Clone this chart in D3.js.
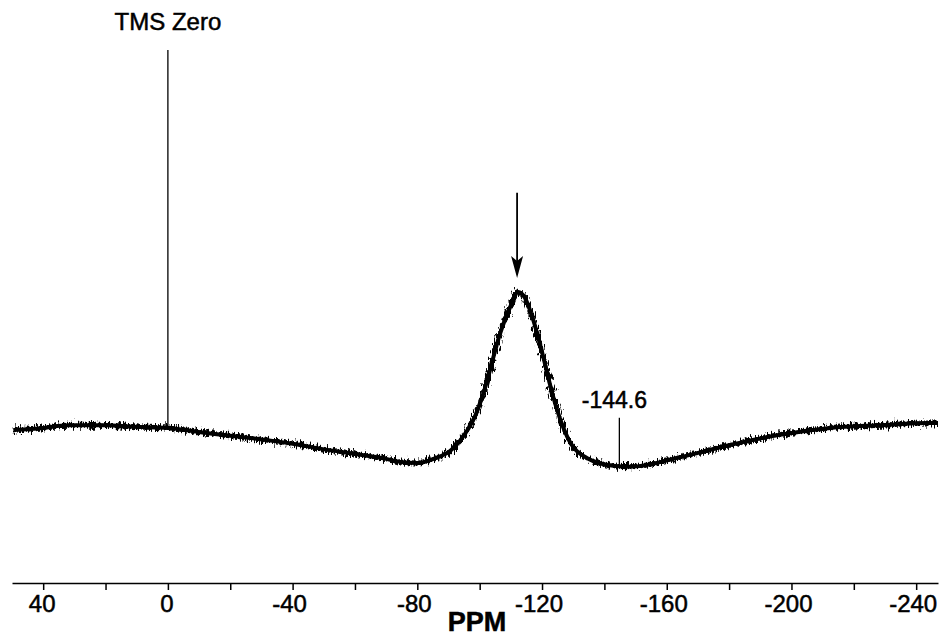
<!DOCTYPE html>
<html>
<head>
<meta charset="utf-8">
<script src="https://cdn.jsdelivr.net/npm/d3@7"></script>
<style>
  body { margin: 0; background: #fff; }
  svg { display: block; font-family: "Liberation Sans", Arial, sans-serif; }
  svg text { stroke: #000; stroke-width: 0.5px; }
</style>
</head>
<body>
<div id="chart"></div>
<script>
const width = 940;
const height = 637;

// spectrum trace (ppm, arbitrary intensity)
const ppm = [49.5, 40, 32.1, 20, 11, 0, -10.5, -26.5, -42.5, -48, -60, -69.1, -74.6, -80,
  -85.2, -90.6, -96.1, -98.6, -101.2, -106.6, -109.8, -112.4, -114.5, -117.2, -120.4, -123.6,
  -128.1, -134.5, -142.8, -148.3, -164.3, -180.3, -196.3, -212.4, -228.4, -244.4, -247];
const intensity = [28.7, 29.1, 29.6, 29.6, 29.3, 29.1, 28.3, 27.2, 25.9, 25.3, 24.2, 23.4, 22.7, 22.5,
  23.3, 24.8, 28.7, 31.4, 35.6, 46.9, 51.8, 54.6, 53.5, 49.3, 42.4, 34.9,
  27.4, 23.4, 22.0, 21.8, 23.6, 25.9, 27.8, 29.1, 29.6, 30.0, 30.0];

// narrow reference lines
const spikePpm = [0, -144.8];
const spikeBase = [29.1, 21.8];
const spikeTop = [100, 31.0];

// axis ticks
const minorTicks = d3.range(50, -250, -10);
const majorTicks = d3.range(40, -250, -20);
const tickLabels = [40, 0, -40, -80, -120, -160, -200, -240];

// annotations
const arrowPpm = -112;
const arrowFrom = 73.2;
const arrowTo = 57.2;
const notes = [
  { text: "TMS Zero", ppm: 0, value: 103.7, size: 24 },
  { text: "-144.6", ppm: -143.2, value: 32.8, size: 23 }
];

const xScale = d3.scaleLinear().domain([50, -247]).range([12, 938]);
const yScale = d3.scaleLinear().domain([0, 100]).range([583, 50]);

const svg = d3.select("#chart")
  .append("svg")
    .attr("width", width)
    .attr("height", height)
    .attr("viewBox", [0, 0, width, height]);

// jitter filter to imitate the noisy trace
const defs = svg.append("defs");
const filter = defs.append("filter")
    .attr("id", "noise")
    .attr("x", "-2%").attr("y", "-20%")
    .attr("width", "104%").attr("height", "140%");
filter.append("feTurbulence")
    .attr("type", "fractalNoise")
    .attr("baseFrequency", "0.7 0.15")
    .attr("numOctaves", 2)
    .attr("seed", 4)
    .attr("result", "t");
filter.append("feDisplacementMap")
    .attr("in", "SourceGraphic")
    .attr("in2", "t")
    .attr("scale", 12)
    .attr("xChannelSelector", "R")
    .attr("yChannelSelector", "G");

// x axis
const axisG = svg.append("g")
    .attr("class", "axis")
    .attr("transform", `translate(0, ${yScale(0)})`);
axisG.call(d3.axisBottom(xScale).tickValues(minorTicks).tickSize(4).tickSizeOuter(0).tickFormat(""));
axisG.call(d3.axisBottom(xScale).tickValues(majorTicks).tickSize(7).tickSizeOuter(0).tickFormat(""));
axisG.selectAll("path, line")
    .attr("stroke", "#000")
    .attr("stroke-width", 1.5);

svg.append("g")
  .selectAll("text")
  .data(tickLabels)
  .join("text")
    .attr("x", d => xScale(d) - (d < 0 ? 3 : 1))
    .attr("y", yScale(0) + 29)
    .attr("text-anchor", "middle")
    .style("font-size", "24px")
    .text(d => String(d));

svg.append("text")
    .attr("x", 477)
    .attr("y", 631)
    .attr("text-anchor", "middle")
    .style("font-size", "27px")
    .style("font-weight", "bold")
    .text("PPM");

// spectrum
const line = d3.line()
  .x((d, i) => xScale(ppm[i]))
  .y(d => yScale(d))
  .curve(d3.curveMonotoneX);

svg.append("path")
    .datum(intensity)
    .attr("d", line)
    .attr("fill", "none")
    .attr("stroke", "#000")
    .attr("stroke-width", 4);

svg.append("path")
    .datum(intensity)
    .attr("d", line)
    .attr("fill", "none")
    .attr("stroke", "#000")
    .attr("stroke-width", 5)
    .attr("filter", "url(#noise)");

// narrow lines
svg.append("g")
  .selectAll("line")
  .data(spikePpm)
  .join("line")
    .attr("x1", d => xScale(d))
    .attr("x2", d => xScale(d))
    .attr("y1", (d, i) => yScale(spikeBase[i]))
    .attr("y2", (d, i) => yScale(spikeTop[i]))
    .attr("stroke", "#000")
    .attr("stroke-width", 1.3);

// arrow
const ax = xScale(arrowPpm);
const tipY = yScale(arrowTo);
svg.append("line")
    .attr("x1", ax).attr("x2", ax)
    .attr("y1", yScale(arrowFrom))
    .attr("y2", tipY - 12)
    .attr("stroke", "#000")
    .attr("stroke-width", 1.8);
svg.append("path")
    .attr("d", `M${ax},${tipY} L${ax - 6},${tipY - 22} L${ax},${tipY - 17} L${ax + 6},${tipY - 22} Z`)
    .attr("fill", "#000");

// labels
svg.append("g")
  .selectAll("text")
  .data(notes)
  .join("text")
    .attr("x", d => xScale(d.ppm))
    .attr("y", d => yScale(d.value))
    .attr("text-anchor", "middle")
    .style("font-size", d => `${d.size}px`)
    .text(d => d.text);
</script>
</body>
</html>
